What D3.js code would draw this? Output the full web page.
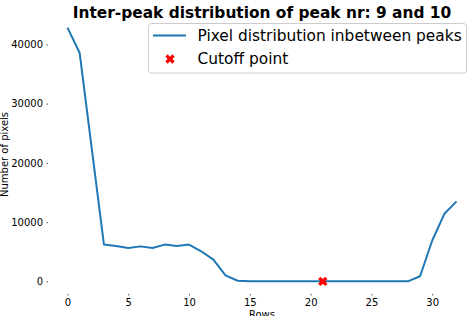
<!DOCTYPE html>
<html><head><meta charset="utf-8">
<script src="https://cdn.jsdelivr.net/npm/d3@7"></script>
<style>body{margin:0;background:#fff}svg{display:block;font-family:"DejaVu Sans",sans-serif}</style>
</head><body><svg id="c" width="476" height="316"></svg>
<script>
const rows = d3.range(0, 33);
const pixels = [42830, 38600, 22400, 6200, 5960, 5630, 5900, 5630, 6200, 5960, 6200, 5070, 3660, 1000, 100,
  0, 0, 0, 0, 0, 0, 0, 0, 0, 0, 0, 0, 0, 0, 850, 6900, 11400, 13500];
const cutoffRow = [21];
const cutoffVal = [0];
const xTicks = [0, 5, 10, 15, 20, 25, 30];
const yTicks = [0, 10000, 20000, 30000, 40000];
const title = "Inter-peak distribution of peak nr: 9 and 10";
const legendLabels = ["Pixel distribution inbetween peaks", "Cutoff point"];

const svg = d3.select("#c");
const L = 48, R = 476, T = 15, B = 294;
const x = d3.scaleLinear().domain([-1.6, 33.6]).range([L, R]);
const y = d3.scaleLinear().domain([-2141, 44972]).range([B, T]);

const xa = svg.append("g").attr("transform", `translate(0,${B})`)
  .call(d3.axisBottom(x).tickValues(xTicks).tickSize(1.5).tickPadding(3.5));
const ya = svg.append("g").attr("transform", `translate(${L},0)`)
  .call(d3.axisLeft(y).tickValues(yTicks).tickFormat(d3.format("d")).tickSize(1.5).tickPadding(3.5));
[xa, ya].forEach(g => {
  g.select(".domain").remove();
  g.selectAll("text").attr("font-family", "DejaVu Sans").attr("font-size", 10).attr("fill", "#000");
  g.selectAll("line").attr("stroke", "#555").attr("stroke-width", 1);
});

svg.append("path").datum(rows)
  .attr("fill", "none").attr("stroke", "#1f77b4").attr("stroke-width", 2)
  .attr("stroke-linejoin", "round")
  .attr("d", d3.line().x(d => x(d)).y((d, i) => y(pixels[i])));

const xSym = d3.symbol().type(d3.symbolCross).size(55);
svg.selectAll(".cut").data(cutoffRow).enter().append("path")
  .attr("d", xSym)
  .attr("transform", (d, i) => `translate(${x(d)},${y(cutoffVal[i])}) rotate(45)`)
  .attr("fill", "red");

svg.append("text").attr("x", (L + R) / 2).attr("y", 17.5).attr("text-anchor", "middle")
  .attr("font-weight", "bold").attr("font-size", 15.4).text(title);

svg.append("text").attr("x", (L + R) / 2).attr("y", 318).attr("text-anchor", "middle")
  .attr("font-size", 10).text("Rows");
svg.append("text").attr("transform", `translate(7.5,${(T + B) / 2}) rotate(-90)`)
  .attr("text-anchor", "middle").attr("font-size", 10).text("Number of pixels");

const lg = svg.append("g");
lg.append("rect").attr("x", 148.5).attr("y", 23.5).attr("width", 318).attr("height", 49.5)
  .attr("rx", 3).attr("fill", "#fff").attr("fill-opacity", 0.8).attr("stroke", "#ccc").attr("stroke-width", 1);
lg.append("line").attr("x1", 153).attr("x2", 186).attr("y1", 35.5).attr("y2", 35.5)
  .attr("stroke", "#1f77b4").attr("stroke-width", 2);
lg.append("path").attr("d", xSym).attr("transform", "translate(170,59) rotate(45)").attr("fill", "red");
lg.selectAll(".lt").data(legendLabels).enter().append("text")
  .attr("x", 197.5).attr("y", (d, i) => 35.5 + i * 23.5).attr("dy", "0.35em")
  .attr("font-size", 15.4).text(d => d);
</script></body></html>
